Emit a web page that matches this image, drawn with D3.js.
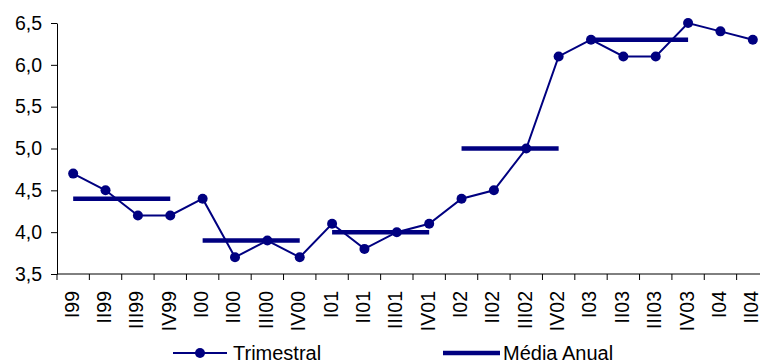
<!DOCTYPE html>
<html>
<head>
<meta charset="utf-8">
<script src="https://cdn.jsdelivr.net/npm/d3@7"></script>
<style>
  html, body { margin: 0; padding: 0; background: #fff; }
  svg { display: block; font-family: Arial, "Liberation Sans", sans-serif; }
</style>
</head>
<body>
<svg id="chart" width="760" height="363"></svg>
<script>
// Quarterly rate and the annual mean for each year
const quarters = ["I99","II99","III99","IV99","I00","II00","III00","IV00",
                  "I01","II01","III01","IV01","I02","II02","III02","IV02",
                  "I03","II03","III03","IV03","I04","II04"];
const trimestral = [4.7,4.5,4.2,4.2,4.4,3.7,3.9,3.7,
                    4.1,3.8,4.0,4.1,4.4,4.5,5.0,6.1,
                    6.3,6.1,6.1,6.5,6.4,6.3];
const anoInicio = ["I99","I00","I01","I02","I03"];
const anoFim    = ["IV99","IV00","IV01","IV02","IV03"];
const mediaAnual = [4.4,3.9,4.0,5.0,6.3];
const yTicks = [3.5,4.0,4.5,5.0,5.5,6.0,6.5];

const color = "#000080";
const svg = d3.select("#chart");

const x = d3.scaleBand().domain(quarters).range([57, 769]);
const y = d3.scaleLinear().domain([3.5, 6.5]).range([274, 23]);
const cx = q => x(q) + x.bandwidth() / 2;
const fmt = v => d3.format(".1f")(v).replace(".", ",");

// Y axis
const yAxis = svg.append("g")
  .attr("transform", "translate(57,0)")
  .call(d3.axisLeft(y).tickValues(yTicks).tickFormat(fmt).tickSize(6).tickSizeOuter(0));
yAxis.select(".domain").attr("stroke", "#000");
yAxis.selectAll(".tick line").attr("stroke", "#000");
yAxis.selectAll(".tick text").attr("font-size", 19.5).attr("fill", "#000")
  .attr("x", -15).attr("font-family", "Arial, 'Liberation Sans', sans-serif");

// X axis: ticks sit between categories
const xAxis = svg.append("g").attr("transform", "translate(0,274)");
xAxis.append("line")
  .attr("x1", 57).attr("x2", 769).attr("stroke", "#000");
xAxis.selectAll("line.tk")
  .data(quarters)
  .join("line")
  .attr("class", "tk")
  .attr("x1", d => x(d)).attr("x2", d => x(d))
  .attr("y1", 0).attr("y2", 6).attr("stroke", "#000");
xAxis.selectAll("text")
  .data(quarters)
  .join("text")
  .attr("transform", d => `translate(${cx(d)},17) rotate(-90)`)
  .attr("text-anchor", "end")
  .attr("dy", "0.28em")
  .attr("font-size", 19.5)
  .attr("fill", "#000")
  .text(d => d);

// Annual mean bars
svg.append("g").selectAll("line")
  .data(mediaAnual)
  .join("line")
  .attr("x1", (d, i) => cx(anoInicio[i]))
  .attr("x2", (d, i) => cx(anoFim[i]))
  .attr("y1", d => y(d)).attr("y2", d => y(d))
  .attr("stroke", color).attr("stroke-width", 4.5);

// Quarterly series
const line = d3.line().x((d, i) => cx(quarters[i])).y(d => y(d));
svg.append("path")
  .datum(trimestral)
  .attr("d", line)
  .attr("fill", "none")
  .attr("stroke", color)
  .attr("stroke-width", 2);
svg.append("g").selectAll("circle")
  .data(trimestral)
  .join("circle")
  .attr("cx", (d, i) => cx(quarters[i]))
  .attr("cy", d => y(d))
  .attr("r", 5)
  .attr("fill", color);

// Legend
const leg = svg.append("g");
const ly = 353;
leg.append("line").attr("x1", 173).attr("x2", 227).attr("y1", ly).attr("y2", ly)
  .attr("stroke", color).attr("stroke-width", 2);
leg.append("circle").attr("cx", 200).attr("cy", ly).attr("r", 5).attr("fill", color);
leg.append("text").attr("x", 233).attr("y", 360).attr("font-size", 20).attr("fill", "#000")
  .text("Trimestral");
leg.append("line").attr("x1", 443).attr("x2", 500).attr("y1", ly).attr("y2", ly)
  .attr("stroke", color).attr("stroke-width", 4.5);
leg.append("text").attr("x", 503).attr("y", 360).attr("font-size", 20).attr("fill", "#000")
  .text("Média Anual");
</script>
</body>
</html>
